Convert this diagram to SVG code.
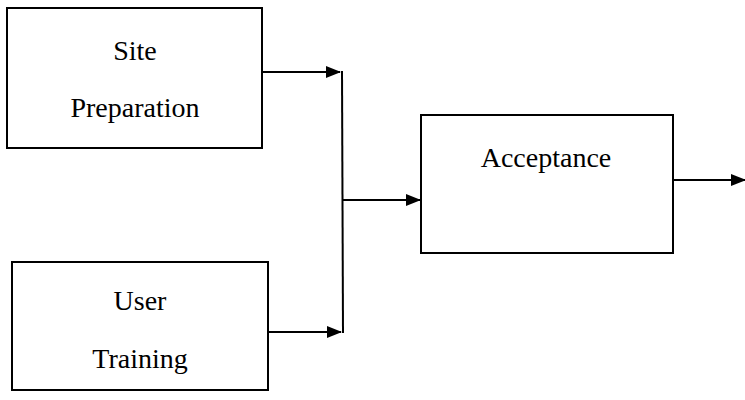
<svg xmlns="http://www.w3.org/2000/svg" width="745" height="400" viewBox="0 0 745 400">
<style>
.box{fill:#fff;stroke:#000;stroke-width:2}
.lbl{font-family:"Liberation Serif","Times New Roman",serif;font-size:28px;fill:#000;text-anchor:middle}
.con{fill:none;stroke:#000;stroke-width:2}
</style>
<defs>
<marker id="ah" markerWidth="15" markerHeight="12" refX="14" refY="6" orient="auto" markerUnits="userSpaceOnUse">
<path d="M0,0 L15,6 L0,12 z" fill="#000"/>
</marker>
</defs>
<rect width="745" height="400" fill="#fff"/>
<g id="site-preparation">
<rect class="box" x="7" y="8" width="255" height="140"/>
<text class="lbl" x="135" y="60">Site</text>
<text class="lbl" x="135" y="117">Preparation</text>
</g>
<g id="user-training">
<rect class="box" x="12" y="262" width="256" height="128"/>
<text class="lbl" x="140" y="310">User</text>
<text class="lbl" x="140" y="368">Training</text>
</g>
<g id="acceptance">
<rect class="box" x="421" y="115" width="252" height="138"/>
<text class="lbl" x="546" y="167">Acceptance</text>
</g>
<g id="connectors">
<line class="con" x1="262" y1="72" x2="340" y2="72" marker-end="url(#ah)"/>
<line class="con" x1="268" y1="332" x2="341" y2="332" marker-end="url(#ah)"/>
<line class="con" x1="342" y1="71" x2="343" y2="333"/>
<line class="con" x1="343" y1="200" x2="420" y2="200" marker-end="url(#ah)"/>
<line class="con" x1="673" y1="180" x2="745" y2="180" marker-end="url(#ah)"/>
</g>
</svg>
